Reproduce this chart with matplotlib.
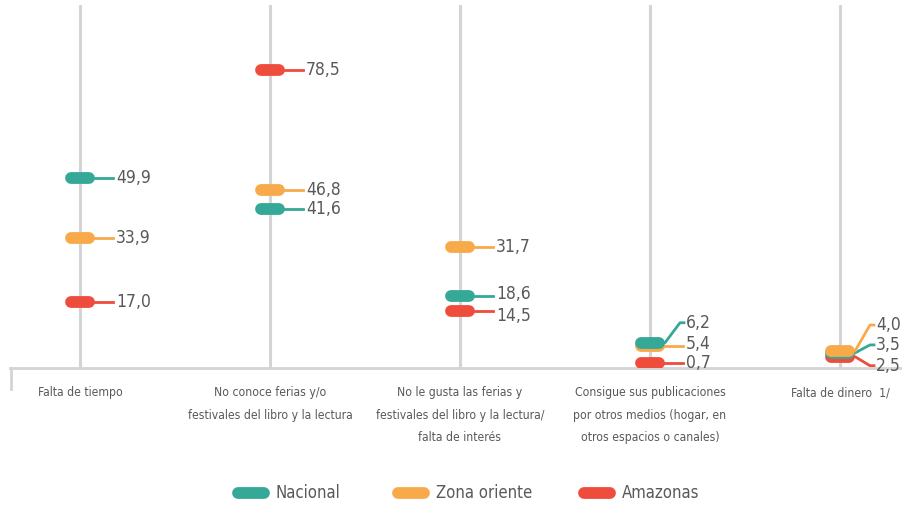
import os
import matplotlib
matplotlib.use("Agg")
import matplotlib.pyplot as plt
import matplotlib.font_manager as fm


def find_narrow_font():
    """Busca una fuente condensada instalada (la original es muy estrecha)."""
    files = [f.fname for f in fm.fontManager.ttflist]
    for key in ["LiberationSansNarrow-Regular", "DejaVuSansCondensed.ttf",
                "Condensed-Regular", "Narrow"]:
        for path in files:
            base = os.path.basename(path)
            if key in base and "Bold" not in base and "Oblique" not in base \
                    and "Italic" not in base:
                return path
    return None


_fpath = find_narrow_font()
if _fpath:
    fm.fontManager.addfont(_fpath)
    plt.rcParams["font.family"] = [fm.FontProperties(fname=_fpath).get_name(), "DejaVu Sans"]
    if "Condensed" in _fpath:
        plt.rcParams["font.stretch"] = "condensed"

categories = [
    "Falta de tiempo",
    "No conoce ferias y/o\nfestivales del libro y la lectura",
    "No le gusta las ferias y\nfestivales del libro y la lectura/\nfalta de interés",
    "Consigue sus publicaciones\npor otros medios (hogar, en\notros espacios o canales)",
    "Falta de dinero  1/",
]
series_names = ["Nacional", "Zona oriente", "Amazonas"]
nacional = [49.9, 41.6, 18.6, 6.2, 3.5]
zona_oriente = [33.9, 46.8, 31.7, 5.4, 4.0]
amazonas = [17.0, 78.5, 14.5, 0.7, 2.5]

COLORS = ["#35A898", "#F8AA4B", "#EE4C3C"]
TEXT = "#595959"
GRID = "#D4D4D4"

# desplazamiento vertical de etiquetas (px) donde los puntos se enciman
LABEL_DY = {(0, 2): 2, (2, 2): -5,
            (0, 3): 20, (1, 3): 2, (2, 3): 0,
            (0, 4): 8, (1, 4): 26, (2, 4): -9}

W, H = 904, 505
fig = plt.figure(figsize=(W / 100, H / 100), dpi=100)
left_px, right_px, top_px, base_px = 10, 900, 5, 368
ax = fig.add_axes([left_px / W, 1 - base_px / H,
                   (right_px - left_px) / W, (base_px - top_px) / H])
x0 = -70 / 190
ax.set_xlim(x0, x0 + (right_px - left_px) / 190)
ax.set_ylim(-0.5, 95.8)
px_x = (right_px - left_px) / (ax.get_xlim()[1] - ax.get_xlim()[0])
px_y = (base_px - top_px) / (ax.get_ylim()[1] - ax.get_ylim()[0])

for s in ["top", "right", "left"]:
    ax.spines[s].set_visible(False)
ax.spines["bottom"].set_color(GRID)
ax.spines["bottom"].set_linewidth(2)
ax.set_xticks([])
ax.set_yticks([])

for i in range(len(categories)):
    ax.axvline(i, color=GRID, lw=2.2, zorder=0)
    ax.text(i, -18 / px_y - 0.5, categories[i], ha="center", va="top",
            fontsize=8.7, color=TEXT, linespacing=1.95, clip_on=False)

# marca inicial del eje
ax.plot([x0 + 1 / px_x, x0 + 1 / px_x], [-0.5, -0.5 - 21 / px_y],
        color=GRID, lw=2, clip_on=False)

all_series = [nacional, zona_oriente, amazonas]
for si, vals in enumerate(all_series):
    for ci, v in enumerate(vals):
        z = 3 + v / 10
        ax.plot([ci - 9 / px_x, ci + 9 / px_x], [v, v], color=COLORS[si],
                lw=8.5, solid_capstyle="round", zorder=z)
        dy = LABEL_DY.get((si, ci))
        if dy is None:
            ax.plot([ci, ci + 33 / px_x], [v, v], color=COLORS[si], lw=2, zorder=2)
            ly = v
        elif abs(dy) < 6:
            ly = v + dy / px_y
            ax.plot([ci, ci + 33 / px_x], [v, v], color=COLORS[si], lw=2, zorder=2)
        else:
            ly = v + dy / px_y
            ax.plot([ci, ci + 15 / px_x, ci + 30 / px_x, ci + 34 / px_x],
                    [v, v, ly, ly], color=COLORS[si], lw=2, zorder=2)
        ax.text(ci + 36 / px_x, ly, f"{v:.1f}".replace(".", ","),
                ha="left", va="center", fontsize=12.5, color=TEXT)

# leyenda
lax = fig.add_axes([0, 0, 1, 1], facecolor="none")
lax.set_xlim(0, W)
lax.set_ylim(H, 0)
lax.axis("off")
for name, color, xp in zip(series_names, COLORS, [238, 398, 584]):
    lax.plot([xp, xp + 26], [493, 493], color=color, lw=8.5,
             solid_capstyle="round")
    lax.text(xp + 38, 493, name, ha="left", va="center", fontsize=12,
             color=TEXT)

fig.savefig("out.png", dpi=100)
